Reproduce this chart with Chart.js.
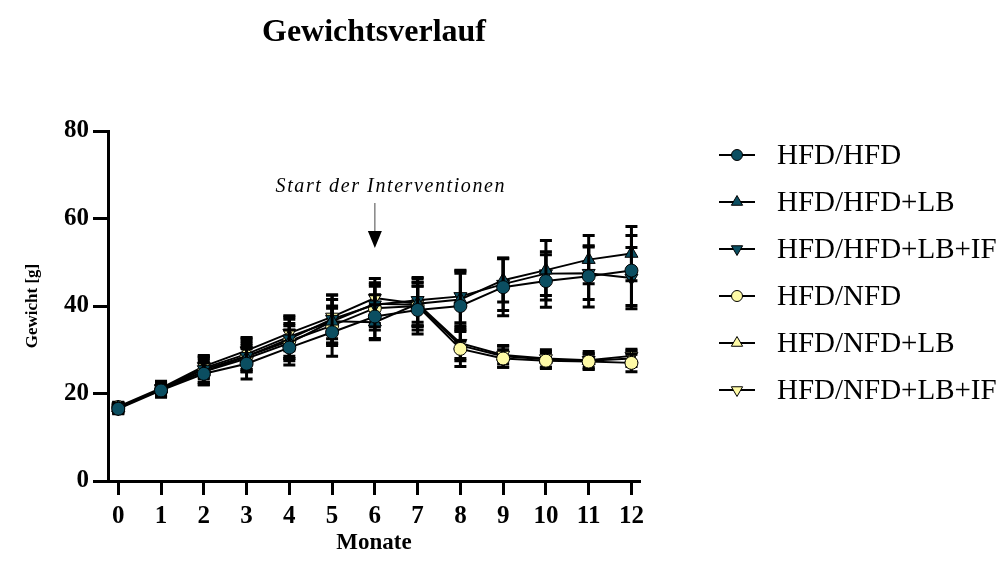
<!DOCTYPE html>
<html>
<head>
<meta charset="utf-8">
<script src="https://cdn.jsdelivr.net/npm/chart.js@4/dist/chart.umd.min.js"></script>
<style>
  html, body { margin: 0; padding: 0; background: #fff; }
  #wrap { width: 1001px; height: 563px; }
</style>
</head>
<body>
<div id="wrap"><canvas id="myChart" width="1001" height="563"></canvas></div>
<script>
const months = [0, 1, 2, 3, 4, 5, 6, 7, 8, 9, 10, 11, 12];
const yTicks = [0, 20, 40, 60, 80];
const seriesNames = ['HFD/HFD', 'HFD/HFD+LB', 'HFD/HFD+LB+IF', 'HFD/NFD', 'HFD/NFD+LB', 'HFD/NFD+LB+IF'];

// Mittelwerte [g]
const hfdHfd      = [16.5, 20.7, 24.5, 26.8, 30.5, 34.0, 37.6, 39.1, 40.0, 44.3, 45.7, 46.8, 48.1];
const hfdHfdLb    = [16.8, 21.0, 25.0, 28.0, 31.5, 36.5, 36.3, 40.5, 41.5, 45.9, 48.2, 50.6, 52.0];
const hfdHfdLbIf  = [16.6, 21.0, 25.5, 28.5, 32.5, 37.0, 40.3, 41.3, 42.2, 45.0, 47.4, 47.5, 46.4];
const hfdNfd      = [16.9, 20.8, 25.0, 28.5, 32.0, 35.5, 39.5, 40.0, 30.2, 28.0, 27.5, 27.3, 27.0];
const hfdNfdLb    = [16.7, 21.0, 25.8, 29.0, 33.0, 36.5, 40.5, 40.3, 31.0, 28.5, 27.8, 27.5, 28.0];
const hfdNfdLbIf  = [17.0, 21.2, 26.2, 29.8, 33.8, 37.5, 41.8, 40.5, 31.5, 28.8, 28.0, 27.6, 28.6];

// Standardabweichungen [g]
const sdHfdHfd     = [1.0, 1.5, 2.5, 3.5, 4.0, 5.5, 5.0, 5.5, 8.0, 6.5, 6.0, 7.0, 8.0];
const sdHfdHfdLb   = [1.0, 1.5, 2.5, 3.0, 4.0, 5.0, 4.0, 6.0, 6.0, 5.0, 6.8, 5.5, 6.2];
const sdHfdHfdLbIf = [1.2, 1.8, 3.0, 3.5, 4.5, 5.5, 5.0, 5.0, 6.0, 6.0, 5.0, 6.0, 7.0];
const sdHfdNfd     = [1.0, 1.5, 3.0, 3.0, 4.0, 4.5, 5.0, 4.5, 4.0, 2.0, 1.8, 1.8, 2.0];
const sdHfdNfdLb   = [1.0, 1.5, 2.5, 3.5, 4.5, 5.0, 4.5, 5.0, 3.5, 2.5, 1.8, 1.5, 1.8];
const sdHfdNfdLbIf = [1.0, 1.5, 2.5, 3.0, 4.0, 5.0, 4.5, 5.0, 3.5, 2.0, 2.0, 2.0, 1.5];

const means = [hfdHfd, hfdHfdLb, hfdHfdLbIf, hfdNfd, hfdNfdLb, hfdNfdLbIf];
const sds = [sdHfdHfd, sdHfdHfdLb, sdHfdHfdLbIf, sdHfdNfd, sdHfdNfdLb, sdHfdNfdLbIf];

const DARK = '#0b4e61';
const LIGHT = '#fefaa6';
const fills = [DARK, DARK, DARK, LIGHT, LIGHT, LIGHT];
const shapes = ['circle', 'triangle', 'triangle', 'circle', 'triangle', 'triangle'];
const rotations = [0, 0, 180, 0, 0, 180];
const SERIF = '"Liberation Serif", "Times New Roman", serif';

// Fehlerbalken je Datensatz (vor dem Datensatz gezeichnet)
const errorBars = {
    id: 'errorBars',
    beforeDatasetDraw(chart, args) {
        const i = args.index;
        const x = chart.scales.x, y = chart.scales.y;
        const ctx = chart.ctx;
        ctx.save();
        ctx.strokeStyle = '#000';
        ctx.lineWidth = 3;
        means[i].forEach((v, k) => {
            const px = x.getPixelForValue(months[k]);
            const top = y.getPixelForValue(v + sds[i][k]);
            const bot = y.getPixelForValue(v - sds[i][k]);
            ctx.beginPath();
            ctx.moveTo(px, top); ctx.lineTo(px, bot);
            ctx.moveTo(px - 6, top); ctx.lineTo(px + 6, top);
            ctx.moveTo(px - 6, bot); ctx.lineTo(px + 6, bot);
            ctx.stroke();
        });
        ctx.restore();
    }
};

function marker(ctx, shape, rot, x, y, r, fill) {
    ctx.beginPath();
    if (shape === 'circle') {
        ctx.arc(x, y, r, 0, Math.PI * 2);
    } else {
        let a = rot * Math.PI / 180;
        ctx.moveTo(x + Math.sin(a) * r, y - Math.cos(a) * r);
        a += Math.PI * 2 / 3;
        ctx.lineTo(x + Math.sin(a) * r, y - Math.cos(a) * r);
        a += Math.PI * 2 / 3;
        ctx.lineTo(x + Math.sin(a) * r, y - Math.cos(a) * r);
        ctx.closePath();
    }
    ctx.fillStyle = fill;
    ctx.fill();
    ctx.lineWidth = 1;
    ctx.strokeStyle = '#000';
    ctx.stroke();
}

// Titel, Anmerkung und Legende
const extras = {
    id: 'extras',
    afterDraw(chart) {
        const ctx = chart.ctx;
        const area = chart.chartArea;
        const x = chart.scales.x;
        ctx.save();
        ctx.fillStyle = '#000';
        ctx.textAlign = 'center';
        ctx.textBaseline = 'alphabetic';
        ctx.font = 'bold 32px ' + SERIF;
        ctx.fillText('Gewichtsverlauf', (area.left + area.right) / 2, 41);

        // Start der Interventionen
        const ax = x.getPixelForValue(6);
        ctx.font = 'italic 20px ' + SERIF;
        ctx.letterSpacing = '1.6px';
        ctx.fillText('Start der Interventionen', ax + 16, 192);
        ctx.letterSpacing = '0px';
        ctx.strokeStyle = '#666';
        ctx.lineWidth = 1.2;
        ctx.beginPath();
        ctx.moveTo(ax, 203);
        ctx.lineTo(ax, 233);
        ctx.stroke();
        ctx.fillStyle = '#000';
        ctx.beginPath();
        ctx.moveTo(ax - 7, 231);
        ctx.lineTo(ax + 7, 231);
        ctx.lineTo(ax, 248);
        ctx.closePath();
        ctx.fill();

        // Legende
        ctx.textAlign = 'left';
        ctx.textBaseline = 'middle';
        ctx.font = '29px ' + SERIF;
        seriesNames.forEach((name, i) => {
            const ly = 155 + i * 47;
            ctx.strokeStyle = '#000';
            ctx.lineWidth = 1.8;
            ctx.beginPath();
            ctx.moveTo(719, ly); ctx.lineTo(755, ly);
            ctx.stroke();
            marker(ctx, shapes[i], rotations[i], 737, ly, shapes[i] === 'circle' ? 5.5 : 6.5, fills[i]);
            ctx.fillStyle = '#000';
            ctx.fillText(name, 777, ly + 1);
        });
        ctx.restore();
    }
};

const tickFont = { family: SERIF, size: 25, weight: 'bold' };

new Chart(document.querySelector('#myChart'), {
    type: 'line',
    data: {
        datasets: seriesNames.map((name, i) => ({
            label: name,
            data: months.map((m, k) => ({ x: m, y: means[i][k] })),
            borderColor: '#000',
            borderWidth: 2,
            tension: 0,
            fill: false,
            pointStyle: shapes[i],
            pointRotation: rotations[i],
            pointRadius: shapes[i] === 'circle' ? 6.5 : 7.5,
            pointBackgroundColor: fills[i],
            pointBorderColor: '#000',
            pointBorderWidth: 1
        }))
    },
    options: {
        responsive: false,
        animation: false,
        layout: { padding: { top: 131, right: 361, left: 0, bottom: 0 } },
        scales: {
            x: {
                type: 'linear',
                min: -0.24,
                max: 12.2,
                afterBuildTicks: s => { s.ticks = months.map(v => ({ value: v })); },
                afterFit: s => { s.height = 82; },
                border: { display: true, color: '#000', width: 3 },
                grid: { drawOnChartArea: false, drawTicks: true, tickLength: 14, tickWidth: 3, tickColor: '#000' },
                ticks: { color: '#000', font: tickFont, padding: 7, maxRotation: 0 },
                title: { display: true, text: 'Monate', color: '#000', font: { family: SERIF, size: 23, weight: 'bold' }, padding: { top: 0, bottom: 6 } }
            },
            y: {
                min: 0,
                max: 80,
                afterBuildTicks: s => { s.ticks = yTicks.map(v => ({ value: v })); },
                afterFit: s => { s.width = 108; },
                border: { display: true, color: '#000', width: 3 },
                grid: { drawOnChartArea: false, drawTicks: true, tickLength: 15, tickWidth: 3, tickColor: '#000' },
                ticks: { color: '#000', font: tickFont, padding: 4 },
                title: { display: true, text: 'Gewicht [g]', color: '#000', font: { family: SERIF, size: 17, weight: 'bold' }, padding: { top: 22, bottom: 0 } }
            }
        },
        plugins: {
            legend: { display: false },
            tooltip: { enabled: false }
        }
    },
    plugins: [errorBars, extras]
});
</script>
</body>
</html>
